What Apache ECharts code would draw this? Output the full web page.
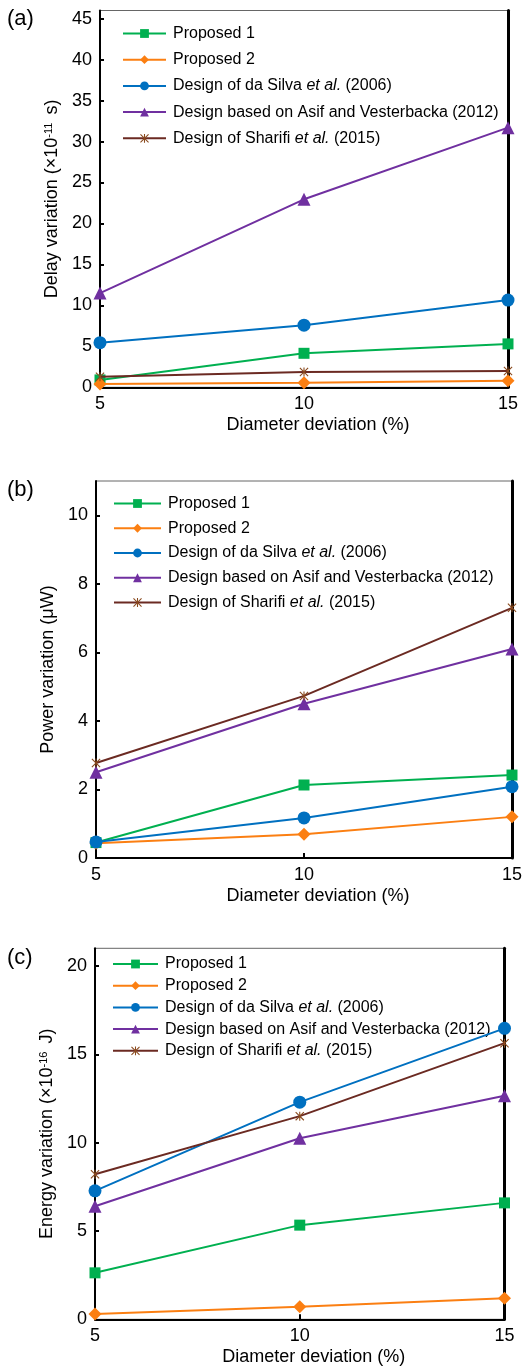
<!DOCTYPE html>
<html>
<head>
<meta charset="utf-8">
<script src="https://cdn.jsdelivr.net/npm/echarts@6/dist/echarts.min.js"></script>
<style>
html,body{margin:0;padding:0;background:#fff;}
#chart{width:523px;height:1367px;}
</style>
</head>
<body>
<div id="chart"></div>
<script>
// ---------- data ----------
const xValues = [5, 10, 15];
const xTicks = [5, 10, 15];
const seriesNames = [
  'Proposed 1',
  'Proposed 2',
  'Design of da Silva et al. (2006)',
  'Design based on Asif and Vesterbacka (2012)',
  'Design of Sharifi et al. (2015)'
];
// (a) delay variation (x10^-11 s)
const delayP1 = [0.9, 4.15, 5.3];
const delayP2 = [0.4, 0.56, 0.8];
const delaySilva = [5.45, 7.58, 10.65];
const delayAsif = [11.5, 22.95, 31.7];
const delaySharifi = [1.3, 1.87, 2.0];
// (b) power variation (uW)
const powerP1 = [0.45, 2.13, 2.42];
const powerP2 = [0.43, 0.69, 1.2];
const powerSilva = [0.47, 1.17, 2.08];
const powerAsif = [2.5, 4.5, 6.1];
const powerSharifi = [2.77, 4.73, 7.3];
// (c) energy variation (x10^-16 J)
const energyP1 = [2.63, 5.33, 6.59];
const energyP2 = [0.3, 0.71, 1.19];
const energySilva = [7.27, 12.29, 16.47];
const energyAsif = [6.4, 10.25, 12.65];
const energySharifi = [8.21, 11.5, 15.63];

// ---------- styling ----------
const FONT = 'Liberation Sans, Arial, Helvetica, sans-serif';
const colors = ['#00b050', '#fb7f12', '#0070c0', '#7030a0', '#6b2a22'];
const markerColors = ['#00b050', '#fb7f12', '#0070c0', '#7030a0', '#8a4a1e'];
const asterisk = 'path://M4.4 0 L5.6 0 L5.6 10 L4.4 10 Z M0 0.85 L0.85 0 L10 9.15 L9.15 10 Z M9.15 0 L10 0.85 L0.85 10 L0 9.15 Z';
const symbols = ['rect', 'diamond', 'circle', 'triangle', asterisk];
const symbolSizes = [11, 13, 13, 13, 9];

const panels = [
  { label: '(a)', labelY: 20, left: 100, right: 15, top: 10.5, height: 376.8, ymax: 46, interval: 5,
    yname: '{n|Delay variation (×10}{s|-11}{n| s)}', data: [delayP1, delayP2, delaySilva, delayAsif, delaySharifi],
    legendLeft: 122, legendTop: 25.5, legendGap: 10.2, legendW: 43 },
  { label: '(b)', labelY: 491, left: 96, right: 11, top: 481, height: 377, ymax: 11, interval: 2,
    yname: '{n|Power variation (μW)}', data: [powerP1, powerP2, powerSilva, powerAsif, powerSharifi],
    legendLeft: 113, legendTop: 495.5, legendGap: 8.75, legendW: 47 },
  { label: '(c)', labelY: 959, left: 95, right: 18.5, top: 948.3, height: 371, ymax: 21, interval: 5,
    yname: '{n|Energy variation (×10}{s|-16}{n| J)}', data: [energyP1, energyP2, energySilva, energyAsif, energySharifi],
    legendLeft: 112, legendTop: 956, legendGap: 5.7, legendW: 45 }
];

const grid = [], xAxis = [], yAxis = [], series = [], legend = [], graphic = [];

function legendFormatter(name) {
  const m = name.match(/^(.*?)et al\.(.*)$/);
  if (m) return '{n|' + m[1] + '}{i|et al.}{n|' + m[2] + '}';
  return '{n|' + name + '}';
}

panels.forEach((p, gi) => {
  grid.push({ left: p.left, right: p.right, top: p.top, height: p.height, show: true,
    borderColor: '#666', borderWidth: 1, backgroundColor: 'transparent', outerBoundsMode: 'none' });
  xAxis.push({
    type: 'value', gridIndex: gi, min: 5, max: 15, interval: 5,
    name: 'Diameter deviation (%)', nameLocation: 'middle', nameGap: 29,
    nameTextStyle: { fontFamily: FONT, fontSize: 18, color: '#000', padding: [0, 0, 0, 28] },
    axisLine: { show: true, onZero: false, lineStyle: { color: '#000', width: 2 } },
    axisTick: { show: true, inside: true, length: 5, lineStyle: { color: '#000', width: 2 } },
    axisLabel: { fontFamily: FONT, fontSize: 18, color: '#000', margin: 8,
      customValues: xTicks },
    splitLine: { show: false }
  });
  yAxis.push({
    type: 'value', gridIndex: gi, min: 0, max: p.ymax, interval: p.interval,
    name: p.yname, nameLocation: 'middle', nameGap: 39,
    nameTextStyle: { fontFamily: FONT, fontSize: 18, color: '#000',
      rich: { n: { fontFamily: FONT, fontSize: 18, color: '#000' },
              s: { fontFamily: FONT, fontSize: 11, color: '#000', verticalAlign: 'top', lineHeight: 12, padding: [0, 3, 0, 0] } } },
    axisLine: { show: true, onZero: false, lineStyle: { color: '#000', width: 2 } },
    axisTick: { show: true, inside: true, length: 4, lineStyle: { color: '#000', width: 2 } },
    axisLabel: { fontFamily: FONT, fontSize: 18, color: '#000', margin: 8, showMaxLabel: false },
    splitLine: { show: false }
  });
  yAxis.push({
    type: 'value', gridIndex: gi, min: 0, max: p.ymax, position: 'right',
    axisLine: { show: true, onZero: false, lineStyle: { color: '#000', width: 3 } },
    axisTick: { show: false }, axisLabel: { show: false }, splitLine: { show: false }
  });
  p.data.forEach((vals, si) => {
    series.push({
      type: 'line', name: seriesNames[si], xAxisIndex: gi, yAxisIndex: gi * 2,
      data: xValues.map((x, k) => [x, vals[k]]),
      symbol: symbols[si], symbolSize: symbolSizes[si], clip: false,
      lineStyle: { color: colors[si], width: 2 },
      itemStyle: { color: markerColors[si] },
      emphasis: { disabled: true },
      z: 3 + si
    });
  });
  legend.push({
    orient: 'vertical', left: p.legendLeft, top: p.legendTop,
    itemWidth: p.legendW, itemHeight: 11, itemGap: p.legendGap,
    padding: 0, selectedMode: false,
    data: seriesNames,
    formatter: legendFormatter,
    textStyle: { fontFamily: FONT, fontSize: 16, color: '#000', padding: [0, 0, 0, 2],
      rich: { n: { fontFamily: FONT, fontSize: 16, color: '#000' },
              i: { fontFamily: FONT, fontSize: 16, color: '#000', fontStyle: 'italic' } } }
  });
  graphic.push({ type: 'text', left: 7, top: p.labelY - 12,
    style: { text: p.label, fontFamily: FONT, fontSize: 22, fill: '#000' } });
});

const chart = echarts.init(document.getElementById('chart'), null, { renderer: 'canvas' });
chart.setOption({
  animation: false,
  backgroundColor: '#fff',
  grid, xAxis, yAxis, series, legend, graphic
});
</script>
</body>
</html>
